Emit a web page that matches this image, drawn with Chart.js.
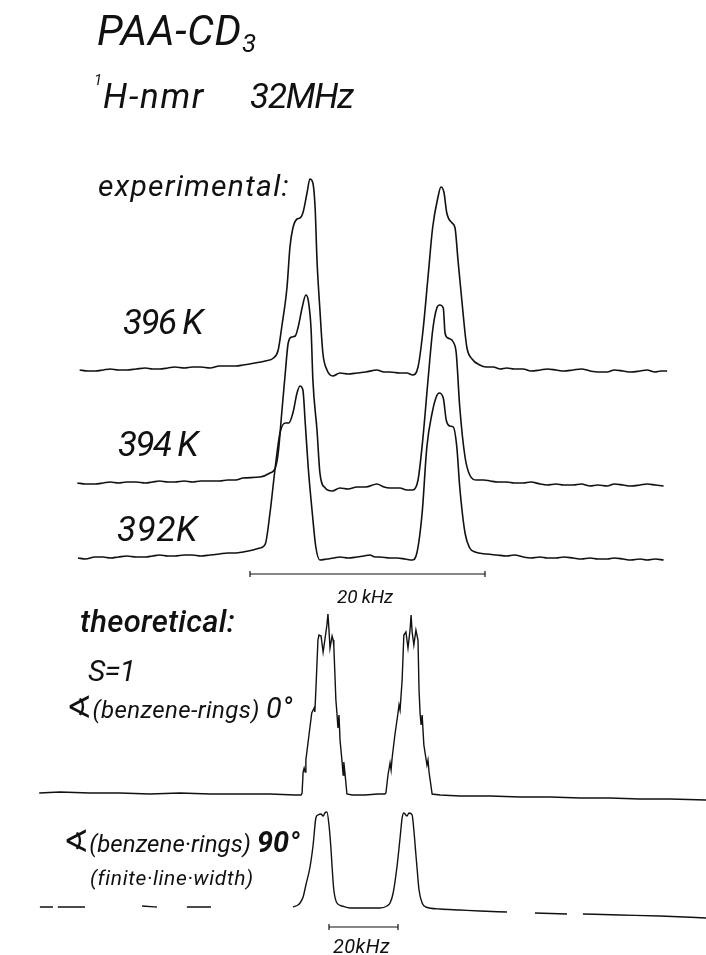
<!DOCTYPE html>
<html>
<head>
<meta charset="utf-8">
<title>PAA-CD3 1H-nmr 32 MHz</title>
<script src="https://cdn.jsdelivr.net/npm/chart.js@4.4.1/dist/chart.umd.min.js"></script>
<style>
  html, body { margin: 0; padding: 0; background: #fff; }
  #wrap { position: relative; width: 706px; height: 955px; overflow: hidden; background: #fff; }
  #c { position: absolute; left: 0; top: 0; }
  .t {
    position: absolute; white-space: nowrap; line-height: 1; color: #111;
    font-family: Roboto, "DejaVu Sans", sans-serif;
    font-style: italic; font-weight: 400;
  }
  .t sub { font-size: 0.62em; vertical-align: baseline; position: relative; top: 0.28em; }
  .big { font-size: 1.2em; }
  .ang { font-family: "DejaVu Sans", sans-serif; font-style: normal; font-weight: normal; font-size: 1.3em; }
</style>
</head>
<body>
<div id="wrap">
  <canvas id="c" width="706" height="955"></canvas>

  <div class="t" style="left:97px;top:10px;font-size:42px" data-w="160">PAA-CD<sub>3</sub></div>
  <div class="t" style="left:94px;top:73px;font-size:15px">1</div>
  <div class="t" style="left:103px;top:79px;font-size:35px" data-w="102">H-nmr</div>
  <div class="t" style="left:250px;top:79px;font-size:35px" data-w="103">32MHz</div>
  <div class="t" style="left:98px;top:171px;font-size:30px" data-w="192">experimental:</div>

  <div class="t" style="left:123px;top:305px;font-size:35px" data-w="79">396 K</div>
  <div class="t" style="left:118px;top:427px;font-size:35px" data-w="79">394 K</div>
  <div class="t" style="left:117px;top:512px;font-size:35px" data-w="81">392K</div>
  <div class="t" style="left:337px;top:587px;font-size:19px" data-w="56">20 kHz</div>

  <div class="t" style="left:80px;top:606px;font-size:31px;font-weight:500" data-w="155">theoretical:</div>
  <div class="t" style="left:88px;top:656px;font-size:30px" data-w="47">S=1</div>
  <div class="t" style="left:66px;top:692px;font-size:24px" data-w="227"><span class="ang">∢</span>(benzene-rings) <span class="big">0°</span></div>
  <div class="t" style="left:63px;top:826px;font-size:24px" data-w="237"><span class="ang">∢</span>(benzene·rings) <span class="big" style="font-weight:700">90°</span></div>
  <div class="t" style="left:90px;top:868px;font-size:21px" data-w="163">(finite·line·width)</div>
  <div class="t" style="left:333px;top:936px;font-size:20px" data-w="57">20kHz</div>
</div>

<script>
// ---- spectra: [frequency offset in kHz, intensity in a.u. above the trace's own baseline]
// experimental 1H spectra of PAA-CD3 at 32 MHz
const spectrum396K = [
  [-24.5,0],[-23.8,-1],[-23.2,-1],[-22.5,0],[-21.9,1],[-21.2,0],[-20.5,0],[-19.7,1],[-18.9,2],
  [-18.3,1],[-17.7,1],[-17.0,2],[-16.4,3],[-15.6,2],[-14.9,3],[-14.2,3],[-13.4,2],[-12.6,4],
  [-11.9,4],[-11.2,4],[-10.6,5],[-9.6,7],[-8.7,9],[-8.0,12],[-7.6,20],[-7.3,43],[-6.85,83],[-6.6,123],
  [-6.35,142],[-6.0,151],[-5.75,152],[-5.5,157],[-5.15,177],[-4.9,191],[-4.65,187],[-4.45,160],
  [-4.3,110],[-4.05,60],[-3.8,17],[-3.45,0],[-2.95,-6],[-2.35,-3],[-1.65,-4],[-0.9,-3],[-0.15,-2],
  [0.8,0],[1.4,-2],[1.9,-2],[2.75,-3],[3.35,-3],[3.85,-5],[4.3,3],[4.7,37],[5.15,93],[5.55,143],
  [6.0,173],[6.25,183],[6.5,178],[6.75,157],[7.2,147],[7.45,142],[7.7,110],[8.05,67],[8.45,23],
  [8.9,11],[9.55,5],[10.1,3],[10.7,3],[11.3,1],[11.85,2],[12.5,1],[13.25,1],[13.9,-1],[14.7,0],
  [15.3,1],[16.05,0],[16.7,-1],[17.5,0],[18.2,1],[18.95,-1],[19.6,-2],[20.4,-2],[21.0,0],
  [21.75,-1],[22.4,-2],[23.2,-1],[23.8,0],[24.45,-2],[25.0,-1],[25.5,-1]
];
const spectrum394K = [
  [-24.7,0],[-24.0,-1],[-23.2,-1],[-22.5,0],[-21.9,1],[-21.2,0],[-20.5,1],[-19.7,1],[-18.9,0],
  [-18.3,1],[-17.7,2],[-17.0,1],[-16.4,1],[-15.6,2],[-14.9,1],[-14.2,2],[-13.4,2],[-12.6,2],
  [-11.9,3],[-11.2,3],[-10.6,5],[-9.15,6],[-8.3,10],[-7.85,15],[-7.6,30],[-7.3,70],[-7.0,110],[-6.75,140],
  [-6.45,146],[-6.15,147],[-5.9,156],[-5.55,176],[-5.25,188],[-5.05,183],[-4.8,153],[-4.65,103],
  [-4.3,53],[-4.05,10],[-3.6,-5],[-3.0,-8],[-2.35,-5],[-1.65,-6],[-0.9,-4],[-0.15,-4],[0.8,-1],
  [1.4,-4],[1.9,-5],[2.75,-5],[3.35,-7],[3.85,-7],[4.3,3],[4.7,43],[5.15,103],[5.55,153],
  [5.9,175],[6.15,178],[6.45,175],[6.6,150],[6.85,145],[7.3,141],[7.55,130],[7.85,76],[8.3,26],
  [8.7,8],[9.3,3],[9.9,3],[10.45,2],[11.1,1],[11.85,1],[12.5,0],[13.25,0],[13.9,1],[14.7,-1],
  [15.3,-2],[16.05,-1],[16.7,-2],[17.5,-2],[18.2,-1],[18.95,-3],[19.6,-2],[20.4,-3],[21.0,-1],
  [21.75,-2],[22.4,-3],[23.2,-2],[23.8,-1],[24.5,-2],[25.2,-3]
];
const spectrum392K = [
  [-24.65,0],[-24.0,-1],[-23.2,1],[-22.5,1],[-21.9,0],[-21.2,1],[-20.5,2],[-19.7,1],[-18.9,1],
  [-18.3,2],[-17.7,3],[-17.0,2],[-16.4,2],[-15.6,3],[-14.9,3],[-14.2,2],[-13.4,3],[-12.6,4],
  [-11.9,5],[-11.2,5],[-10.6,6],[-9.75,8],[-9.15,10],[-8.7,14],[-8.3,45],[-7.85,91],[-7.45,125],[-7.0,135],
  [-6.7,135],[-6.35,145],[-6.0,165],[-5.75,172],[-5.5,168],[-5.3,135],[-5.05,91],[-4.7,45],
  [-4.4,11],[-4.05,-2],[-3.45,-1],[-2.85,0],[-2.35,1],[-1.65,0],[-0.9,1],[-0.3,2],[0.2,3],
  [0.65,1],[1.05,1],[1.9,0],[2.5,0],[3.2,-1],[3.8,-2],[4.2,5],[4.65,45],[5.05,111],[5.5,145],
  [5.85,161],[6.1,165],[6.45,160],[6.7,138],[7.0,132],[7.3,131],[7.6,111],[7.85,71],[8.3,25],
  [8.7,10],[9.15,6],[10.15,4],[11.0,3],[11.85,2],[12.5,3],[13.25,1],[13.9,0],[14.7,1],[15.3,0],
  [16.05,0],[16.7,1],[17.5,0],[18.2,-1],[18.95,0],[19.6,-1],[20.4,-1],[21.0,0],[21.75,-1],
  [22.4,-2],[23.2,-1],[23.8,-2],[24.5,-1],[25.2,-2]
];

// theoretical spectra, S = 1 (null intensity = pen lifted)
const theory0deg = [
  [-94,1],[-88,2],[-79.3,1],[-70.6,1],[-61.9,0],[-53.2,1],[-44.5,0],[-35.8,0],[-27.1,0],
  [-19.9,-1],[-18.1,-1],[-17.8,1],[-17.5,22],[-17.2,26],[-16.9,22],[-16.7,34],[-15.8,59],
  [-15.0,81],[-14.3,86],[-14.1,82],[-13.8,104],[-13.2,154],[-12.9,159],[-12.3,158],[-11.7,142],
  [-11.2,154],[-10.6,169],[-10.3,180],[-10.0,164],[-9.7,146],[-9.1,158],[-8.8,154],[-8.6,148],
  [-8.0,94],[-7.7,81],[-7.4,66],[-7.1,79],[-6.8,54],[-6.2,32],[-5.9,19],[-5.7,32],[-5.4,22],
  [-4.8,0],[-3.3,-1],[0.4,-1],[4.2,0],[6.2,0],[6.5,1],[7.1,19],[7.7,31],[8.0,24],[8.3,36],
  [9.1,59],[10.0,81],[10.3,89],[10.6,84],[11.2,114],[11.7,159],[12.3,162],[12.9,146],[13.5,164],
  [13.8,179],[14.1,162],[14.6,149],[15.2,164],[15.8,154],[16.1,104],[16.4,81],[16.7,69],
  [17.0,79],[17.5,49],[18.4,29],[18.7,34],[19.0,22],[19.9,0],[22.2,-1],[28,-2],[36.7,-2],
  [45.4,-3],[54.1,-3],[62.8,-4],[71.4,-4],[80.1,-5],[88.8,-5],[99.3,-6]
];
const theory90deg = [
  [-93.8,0],[-90.0,0],[-89.3,null],[-88.6,0],[-80.7,0],[-72,null],[-64.2,1],[-59.9,0],
  [-55,null],[-51.2,0],[-44.2,0],[-30,null],
  [-20.4,0],[-19.0,2],[-18.4,4],[-17.5,10],[-16.7,22],[-15.5,40],[-14.6,62],[-13.8,89],
  [-13.2,92],[-12.3,93],[-11.7,91],[-11.2,94],[-10.6,95],[-10.0,82],[-9.4,57],[-9.1,40],
  [-8.6,17],[-7.7,4],[-6.2,1],[-3.9,-1],[0.4,-1],[4.8,-1],[6.8,1],[7.7,4],[8.6,14],[9.7,40],
  [10.6,69],[11.2,89],[11.7,94],[12.6,91],[13.2,94],[14.1,92],[14.6,77],[15.2,52],[15.5,40],
  [16.1,17],[17.0,4],[18.1,0],[22.2,-2],[28.0,-3],[33.8,-4],[41.6,-5],[45,null],[49.7,-6],
  [59.0,-7],[61,null],[63.6,-7],[74.3,-8],[85.9,-9],[99.3,-11]
];

// frequency scale bars
const scaleBarKHz = 20;

// ---- layout: vertical position of each trace's baseline on the shared intensity axis
const baseline = { k396: 585, k394: 472, k392: 397, expBar: 381, deg0: 161, deg90: 48, theoBar: 28 };

const toPoints = (arr, off) => arr.map(([f, v]) => ({ x: f, y: v === null ? null : v + off }));
const barPoints = (off) => {
  const h = scaleBarKHz / 2;
  return [[-h, 3], [-h, -3], [-h, 0], [h, 0], [h, 3], [h, -3]].map(([f, v]) => ({ x: f, y: v + off }));
};

const ink = '#111';
const traceStyle = (smooth) => ({
  showLine: true, pointRadius: 0, borderColor: ink, borderWidth: 1.6, fill: false,
  spanGaps: false, clip: false,
  ...(smooth ? { cubicInterpolationMode: 'monotone' } : { tension: 0 })
});

new Chart(document.getElementById('c'), {
  type: 'scatter',
  data: {
    datasets: [
      { label: '396 K', data: toPoints(spectrum396K, baseline.k396), xAxisID: 'xe', ...traceStyle(true) },
      { label: '394 K', data: toPoints(spectrum394K, baseline.k394), xAxisID: 'xe', ...traceStyle(true) },
      { label: '392 K', data: toPoints(spectrum392K, baseline.k392), xAxisID: 'xe', ...traceStyle(true) },
      { label: '20 kHz', data: barPoints(baseline.expBar), xAxisID: 'xe', ...traceStyle(false), borderWidth: 1.2 },
      { label: '0°', data: toPoints(theory0deg, baseline.deg0), xAxisID: 'xt', ...traceStyle(false), borderWidth: 1.4 },
      { label: '90°', data: toPoints(theory90deg, baseline.deg90), xAxisID: 'xt', ...traceStyle(true), borderWidth: 1.4 },
      { label: '20 kHz (theory)', data: barPoints(baseline.theoBar), xAxisID: 'xt', ...traceStyle(false), borderWidth: 1.2 }
    ]
  },
  options: {
    responsive: false,
    animation: false,
    devicePixelRatio: 1,
    layout: { padding: 0 },
    plugins: { legend: { display: false }, tooltip: { enabled: false } },
    scales: {
      xe: { type: 'linear', position: 'bottom', display: false, min: -31.28, max: 28.81 },
      xt: { type: 'linear', position: 'bottom', display: false, min: -105.36, max: 99.28 },
      y:  { type: 'linear', display: false, min: 0, max: 955 }
    }
  }
});

// fit each label's tracking to its lettered width
document.querySelectorAll('.t[data-w]').forEach(el => {
  const target = parseFloat(el.dataset.w);
  const natural = el.getBoundingClientRect().width;
  const n = el.textContent.length;
  el.style.letterSpacing = ((target - natural) / n).toFixed(2) + 'px';
});
</script>
</body>
</html>
